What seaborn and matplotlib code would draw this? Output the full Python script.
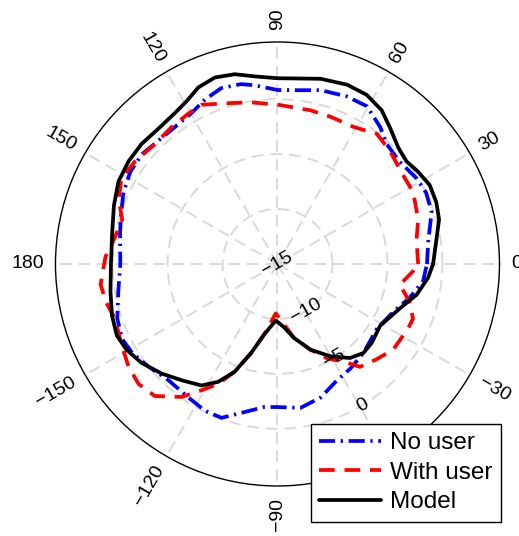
import numpy as np
import pandas as pd
import matplotlib
matplotlib.use("Agg")
import matplotlib.pyplot as plt
import seaborn as sns

theta_nouser = [0, 9, 18.6, 25.6, 31.6, 40, 47.6, 53.1, 60.4, 67.5, 76, 82.4, 90, 97.4, 101.5,
                107.7, 113.8, 119.7, 126.9, 134, 141, 147.9, 155, 161.8, 168.9, 180, 189.8,
                198.8, 205.8, 211.4, 218.5, 226.8, 236.2, 243.8, 250, 256.3, 264.7, 270,
                279.1, 287.9, 297, 304.9, 314, 326.9, 337.5, 345.6, 353.3]
r_nouser = [-1.4, -1.1, -0.2, 0.0, -0.14, -0.5, -0.25, 0.57, 1.5, 1.5, 1.3, 0.95, 0.83, 1.4, 1.7,
            1.8, 1.35, 0.8, 0.57, 0.6, 0.87, 0.8, 0.46, -0.03, -0.4, -0.7, -0.3,
            0.4, 0.7, 0.5, 0.0, -0.5, -0.4, -0.1, -0.1, -1.05, -1.93, -1.98,
            -1.74, -2.23, -3.1, -3.4, -3.74, -4.2, -3.6, -2.6, -1.66]

theta_withuser = [0, 9.8, 17.6, 27.9, 35.3, 45.1, 52.6, 61, 70.2, 77.9, 90, 99.3, 107, 115.5,
                  120.7, 127.7, 135.6, 144.2, 151.2, 157.8, 164, 170.4, 177.7, 186.6, 192.4,
                  198.6, 207.8, 214.6, 220.8, 227.1, 234.3, 239, 243.6, 248.3, 253.5, 259.4,
                  268, 276, 282.6, 291, 297.7, 304, 308.7, 316, 323.5, 333.8, 338, 344,
                  350.4, 357]
r_withuser = [-2.2, -2.16, -1.57, -1.03, -1.0, -0.5, -0.1, -0.74, -0.76, -0.7, -0.5, -0.1, 0.3, 1.05,
              0.9, 0.75, 0.6, 0.97, 1.2, 0.6, -0.3, -0.03, 0.67, 1.2, 1.0,
              0.6, 1.0, 1.46, 1.7, 1.4, -0.1, -1.6, -2.8, -4.44, -6.55, -8.5,
              -10.5, -9.5, -8.1, -6.65, -5.3, -4.3, -3.0, -2.5, -1.9, -1.74, -1.7, -2.5,
              -3.7, -2.64]

theta_model = [0, 8.6, 15.4, 21.2, 27.4, 33.3, 38.5, 44, 50.6, 55.9, 62.2, 68.8, 76.9, 84.9, 90,
               97, 102.7, 108.6, 114.2, 119.2, 124.3, 131.4, 138.6, 145.4, 152.6, 160.4, 169.5,
               180, 189.3, 197.2, 204, 209.6, 216, 223.5, 230.6, 238, 243.3, 248.3, 253.5,
               259.4, 268.3, 276, 282.6, 291, 299.8, 307.6, 314, 320.1, 329, 340, 347.5, 354.8]
r_model = [-0.84, -0.38, 0.25, 0.5, 0.6, 0.3, 0.0, 0.27, 1.1, 1.9, 2.4, 2.5, 2.3, 1.95, 1.9,
           2.2, 2.7, 2.9, 2.6, 1.96, 1.6, 1.4, 1.5, 1.46, 1.3, 0.8, 0.3,
           0.15, 0.4, 0.77, 1.0, 0.8, 0.3, -0.5, -1.3, -1.96, -3.0, -4.44, -6.55,
           -8.5, -9.86, -9.2, -8.1, -6.65, -5.32, -4.2, -3.74, -3.82, -4.1, -3.16, -2.04, -1.24]

angle_ticks = [0, 30, 60, 90, 120, 150, 180, 210, 240, 270, 300, 330]
angle_labels = ["0", "30", "60", "90", "120", "150", "180",
                "\u2212150", "\u2212120", "\u221290", "\u221260", "\u221230"]
r_ticks = [-15, -10, -5, 0]
r_labels = ["\u221215", "\u221210", "\u22125", "0"]

sns.set_style("white")
plt.rcParams["font.family"] = ["Liberation Sans", "DejaVu Sans"]
plt.rcParams["text.color"] = "black"

fig = plt.figure(figsize=(5.19, 5.36), dpi=100)
ax = fig.add_axes([0.1069, 0.0933, 0.8555, 0.8284], projection="polar")


def closed(theta, r):
    # repeat the first sample so each pattern closes on itself
    t = np.deg2rad(np.append(theta, theta[0] + 360))
    return pd.DataFrame({"theta": t, "r": np.append(r, r[0])})


sns.lineplot(data=closed(theta_nouser, r_nouser), x="theta", y="r", ax=ax, sort=False,
             estimator=None, color="#0000ff", lw=2.7, linestyle=(0, (4.3, 1.5, 0.6, 1.5)),
             label="No user")
sns.lineplot(data=closed(theta_withuser, r_withuser), x="theta", y="r", ax=ax, sort=False,
             estimator=None, color="#ff0000", lw=2.7, linestyle=(0, (4.2, 2.6)),
             label="With user")
sns.lineplot(data=closed(theta_model, r_model), x="theta", y="r", ax=ax, sort=False,
             estimator=None, color="black", lw=2.7, linestyle="-", label="Model")

ax.set_xlabel("")
ax.set_ylabel("")
ax.set_ylim(-15, 5.2)

# grid
ax.set_xticks(np.deg2rad(angle_ticks))
ax.set_xticklabels([])
ax.set_yticks(r_ticks[1:])
ax.set_yticklabels([])
ax.tick_params(length=0)
ax.grid(True, color="#d9d9d9", lw=1.4, linestyle=(0, (6, 3.6)))
ax.spines["polar"].set_color("black")
ax.spines["polar"].set_linewidth(1.0)

# angle labels, written along the radius
for a, lab in zip(angle_ticks, angle_labels):
    if a <= 90 or a > 270:
        rot, ha = (a if a <= 90 else a - 360), "left"
    else:
        rot, ha = a - 180, "right"
    ax.text(np.deg2rad(a), 6.27, lab, rotation=rot, rotation_mode="anchor",
            ha=ha, va="center", fontsize=14, color="black", clip_on=False)

# radial labels
for rv, lab in zip(r_ticks, r_labels):
    ax.text(np.deg2rad(-59), rv, lab, rotation=30, ha="center", va="center",
            fontsize=14, color="black")

leg = ax.legend(loc="upper right", bbox_to_anchor=(0.9653, 0.209), bbox_transform=fig.transFigure,
                fontsize=17.5, frameon=True, fancybox=False, edgecolor="black", framealpha=1,
                borderaxespad=0, handlelength=2.55, labelspacing=0.3, borderpad=0.35,
                handletextpad=0.37)
leg.get_frame().set_linewidth(1.0)
for t in leg.get_texts():
    t.set_color("black")

fig.savefig("out.png", dpi=100)
